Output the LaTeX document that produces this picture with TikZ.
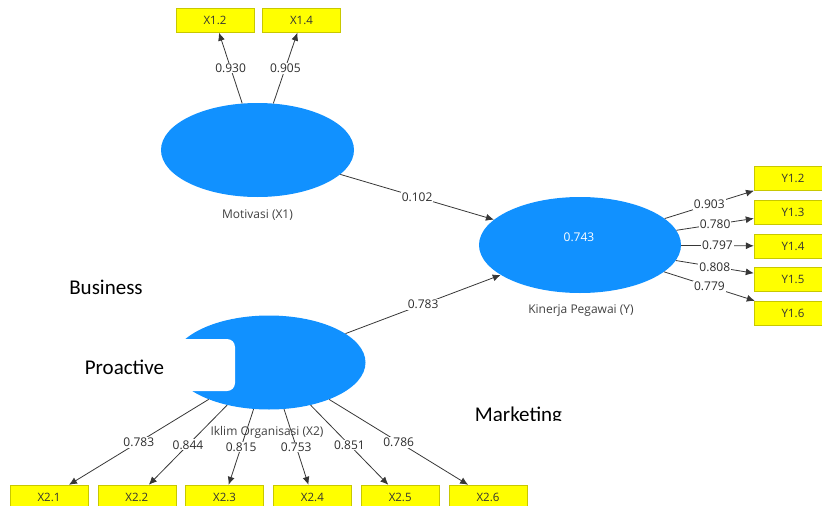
\documentclass[tikz,border=0pt]{standalone}
\usepackage{fontspec}
\setmainfont{Open Sans}
\newfontfamily\calib{Carlito}
\usetikzlibrary{shapes.geometric,arrows.meta}
\definecolor{lvblue}{RGB}{17,145,255}
\definecolor{indyellow}{RGB}{255,255,0}
\definecolor{indline}{RGB}{200,200,0}
\definecolor{arrgrey}{RGB}{55,55,55}
\definecolor{txtgrey}{RGB}{45,45,45}

\begin{document}
\begin{tikzpicture}[x=1pt,y=-1pt,
 lv/.style={ellipse,fill=lvblue,inner sep=0pt,minimum width=193pt,minimum height=94pt},
 ind/.style={rectangle,draw=indline,fill=indyellow,minimum width=78pt,minimum height=24pt,
             inner sep=0pt,font=\fontsize{11.5}{13}\selectfont,text=black!80},
 lvname/.style={font=\fontsize{12}{14}\selectfont,text=black!75},
 ldg/.style={draw=arrgrey,line width=0.8pt,-{Latex[length=8pt,width=7pt]}},
 coef/.style={fill=white,inner sep=1pt,font=\fontsize{12}{14}\selectfont,text=txtgrey},
 word/.style={font=\calib\fontsize{21}{25}\selectfont,text=black}]

\useasboundingbox (0,0) rectangle (822,506);

% construct names
\node[lvname] (m-lbl) at (257.5,215) {Motivasi (X1)};
\node[lvname] (k-lbl) at (581,311) {Kinerja Pegawai (Y)};
\node[lvname] (i-lbl) at (267,432) {Iklim Organisasi (X2)};

% constructs
\node[lv] (mot) at (257.5,150) {};
\node[lv,minimum width=202pt,minimum height=96pt] (kin) at (580,245) {};
\node[lv] (ikl) at (269,362.5) {};
\node[text=white,font=\fontsize{12}{14}\selectfont] (r2) at (579,237) {0.743};

% white patch and the loose words
\node[fill=white,rounded corners=8pt,minimum width=90pt,minimum height=52pt] (patch) at (190,365) {};
\node[word] (bus) at (106,287) {Business};
\node[word] (pro) at (124.5,367) {Proactive};
\begin{scope}
\clip (450,395) rectangle (600,420.5);
\node[word,anchor=base] (mkt) at (518.5,421.5) {Marketing};
\end{scope}

% indicators
\node[ind] (x12) at (215,20.5) {X1.2};
\node[ind] (x14) at (301.5,20.5) {X1.4};
\foreach \n/\y in {2/178.5,3/212.5,4/246,5/279.5,6/313}
  \node[ind] (y1\n) at (793,\y) {Y1.\n};
\foreach \n in {1,...,6}
  \node[ind] (x2\n) at ({49+87.8*(\n-1)},497) {X2.\n};

% loadings and path coefficients
\draw[ldg] (mot) -- node[coef]{0.930} (x12);
\draw[ldg] (mot) -- node[coef]{0.905} (x14);
\draw[ldg] (mot) -- node[coef]{0.102} (kin);
\draw[ldg] (ikl) -- node[coef]{0.783} (kin);
\foreach \n/\v in {2/0.903,3/0.780,4/0.797,5/0.808,6/0.779}
  \draw[ldg] (kin) -- node[coef]{\v} (y1\n);
\foreach \n/\v in {1/0.783,2/0.844,3/0.815,4/0.753,5/0.851,6/0.786}
  \draw[ldg] (ikl) -- node[coef]{\v} (x2\n);
\end{tikzpicture}
\end{document}
